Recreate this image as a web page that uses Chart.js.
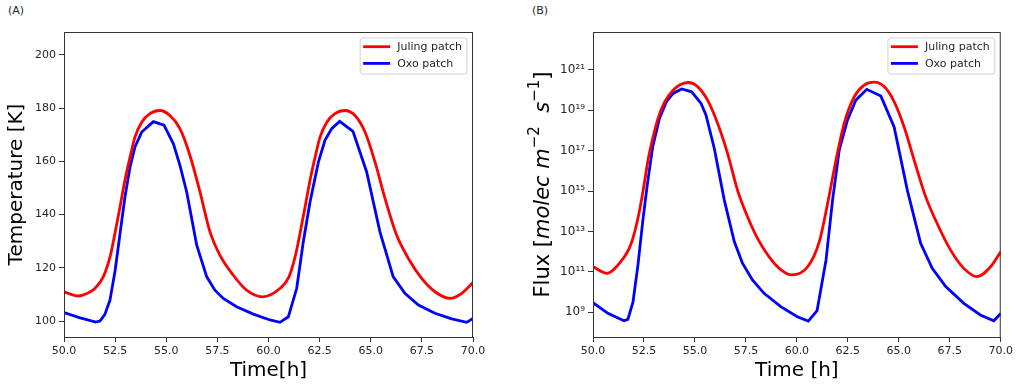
<!DOCTYPE html>
<html>
<head>
<meta charset="utf-8">
<script src="https://cdn.jsdelivr.net/npm/chart.js@4"></script>
<style>
  html, body { margin: 0; padding: 0; background: #fff; }
  body { width: 1016px; height: 389px; position: relative; overflow: hidden; font-family: "DejaVu Sans", sans-serif; }
  .panel { position: absolute; top: 0; width: 508px; height: 389px; }
  .tag { position: absolute; top: 4px; font-size: 11px; color: #262626; }
</style>
</head>
<body>
<div class="tag" style="left:8px">(A)</div>
<div class="tag" style="left:532px">(B)</div>
<div class="panel" style="left:0"><canvas id="temp-chart"></canvas></div>
<div class="panel" style="left:508px"><canvas id="flux-chart"></canvas></div>
<script>
// time axis
const timeTicks = [50, 52.5, 55, 57.5, 60, 62.5, 65, 67.5, 70];

// (A) temperature [K]
const julingTempTime = [50.0, 50.7, 51.27, 51.52, 51.92, 52.25, 52.49, 52.74, 52.98, 53.23, 53.47, 53.8, 54.2, 54.69, 55.18, 55.67, 56.16, 56.65, 57.14, 57.63, 58.28, 58.93, 59.7, 60.57, 61.0, 61.3, 61.54, 61.79, 62.03, 62.28, 62.52, 62.85, 63.25, 63.74, 64.23, 64.72, 65.21, 65.7, 66.27, 66.84, 67.49, 68.14, 68.88, 69.45, 70.0];
const julingTemp = [111.0, 109.4, 110.9, 112.3, 116.6, 124.1, 132.9, 142.9, 152.9, 161.6, 169.1, 174.7, 177.9, 179.1, 177.2, 172.3, 162.2, 148.5, 133.5, 124.7, 117.2, 111.6, 109.1, 112.3, 116.6, 124.1, 132.9, 142.9, 152.9, 161.6, 169.1, 174.7, 177.9, 179.1, 177.2, 171.0, 159.7, 146.0, 132.2, 123.5, 116.0, 111.0, 108.5, 110.4, 114.5];
const oxoTempTime = [50.0, 50.75, 51.55, 51.76, 52.0, 52.25, 52.5, 52.74, 52.98, 53.23, 53.47, 53.8, 54.37, 54.89, 55.35, 55.67, 56.0, 56.49, 56.98, 57.38, 57.79, 58.44, 59.26, 60.07, 60.56, 60.97, 61.38, 61.7, 62.03, 62.44, 62.76, 63.09, 63.48, 64.13, 64.8, 65.45, 66.1, 66.67, 67.33, 68.14, 68.96, 69.69, 70.0];
const oxoTemp = [103.2, 101.3, 99.6, 100.0, 102.5, 107.9, 119.0, 132.9, 146.6, 157.9, 165.4, 171.0, 174.9, 173.6, 166.6, 158.5, 148.5, 128.5, 116.6, 111.6, 108.5, 105.4, 102.6, 100.4, 99.5, 101.6, 112.3, 129.7, 144.7, 159.7, 167.9, 172.3, 175.0, 171.3, 156.0, 133.5, 116.6, 110.4, 106.0, 102.9, 100.8, 99.5, 101.0];
const tempTicks = [100, 120, 140, 160, 180, 200];

// (B) flux [molec m^-2 s^-1]
const julingFluxTime = [50.0, 50.7, 51.3, 51.87, 52.22, 52.46, 52.7, 52.95, 53.19, 53.52, 53.93, 54.25, 54.66, 55.13, 55.62, 56.11, 56.6, 57.09, 57.58, 58.07, 58.64, 59.21, 59.75, 60.53, 61.1, 61.51, 61.92, 62.32, 62.81, 63.3, 63.79, 64.28, 64.77, 65.26, 65.75, 66.32, 66.88, 67.54, 68.19, 68.84, 69.5, 70.0];
const julingFlux = [1.8e11, 8.5e10, 2.7e11, 2.5e12, 5.4e13, 1.1e15, 3.5e16, 4.9e17, 4.0e18, 2.7e19, 1.0e20, 1.8e20, 2.4e20, 1.5e20, 3.2e19, 2.3e18, 7.4e16, 1.1e15, 5.4e13, 4.6e12, 5.6e11, 1.3e11, 7.1e10, 1.8e11, 3.2e12, 2.5e14, 3.5e16, 2.3e18, 4.7e19, 1.8e20, 2.5e20, 1.5e20, 2.7e19, 1.5e18, 3.5e16, 5.2e14, 2.5e13, 1.2e12, 1.5e11, 5.8e10, 1.8e11, 1.0e12];
const oxoFluxTime = [50.0, 50.73, 51.52, 51.71, 51.96, 52.2, 52.44, 52.66, 52.93, 53.26, 53.6, 53.93, 54.35, 54.84, 55.3, 55.54, 55.95, 56.44, 56.93, 57.33, 57.82, 58.39, 59.21, 60.02, 60.56, 60.99, 61.43, 61.75, 62.08, 62.48, 62.89, 63.43, 64.12, 64.77, 65.42, 66.07, 66.64, 67.3, 68.19, 69.0, 69.66, 70.0];
const oxoFlux = [3.0e9, 8.9e8, 3.8e8, 4.5e8, 3.2e9, 2.0e11, 3.2e13, 2.0e15, 1.6e17, 4.0e18, 2.7e19, 6.9e19, 1.15e20, 8.3e19, 2.2e19, 5.9e18, 1.3e17, 3.6e14, 3.2e12, 2.7e11, 4.0e10, 8.7e9, 1.9e9, 6.0e8, 3.7e8, 1.2e9, 3.9e11, 3.6e14, 1.1e17, 3.3e18, 3.2e19, 1.1e20, 5.1e19, 1.5e18, 1.1e15, 2.6e12, 1.5e11, 1.9e10, 2.8e9, 7.4e8, 3.8e8, 8.9e8];
const fluxTicks = [1e9, 1e11, 1e13, 1e15, 1e17, 1e19, 1e21];

const seriesNames = ['Juling patch', 'Oxo patch'];
const seriesColors = ['#ff0000', '#0000ff'];

const FONT = '"DejaVu Sans", sans-serif';
const INK = '#262626';
const SUP = {'0':'⁰','1':'¹','2':'²','3':'³','4':'⁴','5':'⁵','6':'⁶','7':'⁷','8':'⁸','9':'⁹','-':'⁻'};

function pts(xs, ys) {
    return xs.map((x, i) => ({x: x, y: ys[i]}));
}

// frame around the axes plus a matplotlib style legend box
const frameAndLegend = {
    id: 'frameAndLegend',
    afterDatasetsDraw(chart) {
        const {ctx, chartArea: a} = chart;
        ctx.save();
        ctx.strokeStyle = '#333';
        ctx.lineWidth = 1;
        ctx.strokeRect(a.left + 0.5, a.top + 0.5, a.right - a.left - 1, a.bottom - a.top);

        ctx.font = '11px ' + FONT;
        const labelW = Math.max(...chart.data.datasets.map(d => ctx.measureText(d.label).width));
        const w = 37 + labelW + 5, h = 36;
        const x0 = a.right - 6 - w, y0 = a.top + 6;
        ctx.fillStyle = 'rgba(255,255,255,0.8)';
        ctx.strokeStyle = '#d0d0d0';
        ctx.beginPath();
        ctx.roundRect(x0, y0, w, h, 3);
        ctx.fill();
        ctx.stroke();
        chart.data.datasets.forEach((d, i) => {
            const y = y0 + 8.7 + i * 16.7;
            ctx.strokeStyle = d.borderColor;
            ctx.lineWidth = 2.8;
            ctx.beginPath();
            ctx.moveTo(x0 + 3, y);
            ctx.lineTo(x0 + 30, y);
            ctx.stroke();
            ctx.fillStyle = INK;
            ctx.textBaseline = 'middle';
            ctx.fillText(d.label, x0 + 37, y + 0.5);
        });
        ctx.restore();
    }
};

// y title with mixed roman / italic / superscript parts
const fluxTitle = {
    id: 'fluxTitle',
    afterDraw(chart) {
        const {ctx, chartArea: a} = chart;
        const parts = [
            ['Flux [', '21px ' + FONT, 0],
            ['molec m', 'italic 21px ' + FONT, 0],
            ['\u22122', '15px ' + FONT, -9],
            ['  s', 'italic 21px ' + FONT, 0],
            ['\u22121', '15px ' + FONT, -9],
            [']', '21px ' + FONT, 0]
        ];
        ctx.save();
        let total = 0;
        parts.forEach(p => { ctx.font = p[1]; p.push(ctx.measureText(p[0]).width); total += p[3]; });
        ctx.translate(a.left - 49, (a.top + a.bottom) / 2);
        ctx.rotate(-Math.PI / 2);
        ctx.fillStyle = '#000';
        ctx.textBaseline = 'middle';
        let x = -total / 2;
        parts.forEach(p => {
            ctx.font = p[1];
            ctx.fillText(p[0], x, p[2]);
            x += p[3];
        });
        ctx.restore();
    }
};

function timeScale(title) {
    return {
        type: 'linear',
        min: 50,
        max: 70,
        afterBuildTicks: s => { s.ticks = timeTicks.map(v => ({value: v})); },
        afterFit: s => { s.height = 52; },
        ticks: {
            callback: v => v.toFixed(1),
            color: INK,
            font: {family: FONT, size: 11},
            padding: 3,
            maxRotation: 0
        },
        grid: {drawOnChartArea: false, color: '#333', tickLength: 5},
        border: {color: '#333'},
        title: {display: true, text: title, color: '#000', font: {family: FONT, size: 20}, padding: {top: 0, bottom: 6}}
    };
}

function makeDatasets(julingPts, oxoPts) {
    return [
        {label: seriesNames[0], data: julingPts, borderColor: seriesColors[0], borderWidth: 2.8,
         pointRadius: 0, cubicInterpolationMode: 'monotone', fill: false},
        {label: seriesNames[1], data: oxoPts, borderColor: seriesColors[1], borderWidth: 2.8,
         pointRadius: 0, tension: 0, fill: false}
    ];
}

const common = {
    responsive: true,
    maintainAspectRatio: false,
    animation: false,
    events: [],
    plugins: {legend: {display: false}, tooltip: {enabled: false}}
};

new Chart(document.getElementById('temp-chart'), {
    type: 'line',
    data: {datasets: makeDatasets(pts(julingTempTime, julingTemp), pts(oxoTempTime, oxoTemp))},
    options: Object.assign({}, common, {
        layout: {padding: {top: 32, right: 35, left: 0, bottom: 0}},
        scales: {
            x: timeScale('Time[h]'),
            y: {
                type: 'linear',
                min: 94,
                max: 208.6,
                afterBuildTicks: s => { s.ticks = tempTicks.map(v => ({value: v})); },
                afterFit: s => { s.width = 64; },
                ticks: {color: INK, font: {family: FONT, size: 11}, padding: 3},
                grid: {drawOnChartArea: false, color: '#333', tickLength: 5},
                border: {color: '#333'},
                title: {display: true, text: 'Temperature [K]', color: '#000', font: {family: FONT, size: 20}, padding: {top: 5, bottom: 0}}
            }
        }
    }),
    plugins: [frameAndLegend]
});

new Chart(document.getElementById('flux-chart'), {
    type: 'line',
    data: {datasets: makeDatasets(pts(julingFluxTime, julingFlux), pts(oxoFluxTime, oxoFlux))},
    options: Object.assign({}, common, {
        layout: {padding: {top: 32, right: 14, left: 0, bottom: 0}},
        scales: {
            x: timeScale('Time [h]'),
            y: {
                type: 'logarithmic',
                min: 6.0e7,
                max: 7.6e22,
                afterBuildTicks: s => { s.ticks = fluxTicks.map(v => ({value: v})); },
                afterFit: s => { s.width = 85; },
                ticks: {
                    callback: v => '10' + String(Math.round(Math.log10(v))).split('').map(c => SUP[c]).join(''),
                    color: INK,
                    font: {family: FONT, size: 12},
                    padding: 3
                },
                grid: {drawOnChartArea: false, color: '#333', tickLength: 5},
                border: {color: '#333'}
            }
        }
    }),
    plugins: [frameAndLegend, fluxTitle]
});
</script>
</body>
</html>
